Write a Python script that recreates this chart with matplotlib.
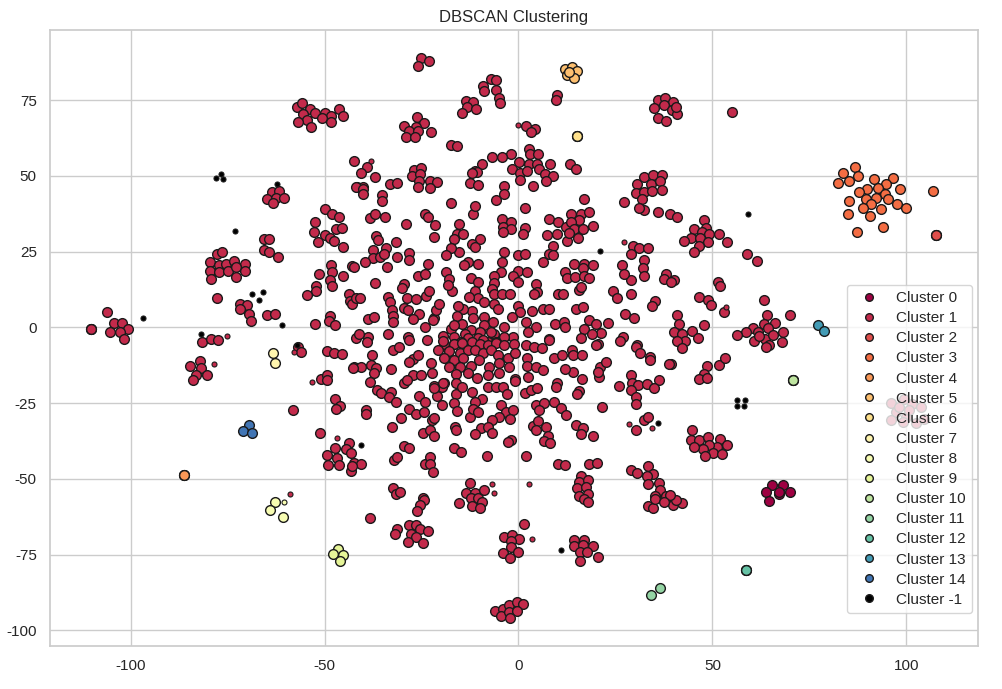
import numpy as np
import matplotlib
matplotlib.use("Agg")
import matplotlib.pyplot as plt
from matplotlib.lines import Line2D
import seaborn as sns

sns.set_theme(style="whitegrid")
plt.rcParams['font.family'] = ['Liberation Sans', 'DejaVu Sans']
plt.rcParams['axes.unicode_minus'] = False

# ---------------- data ----------------
cluster0_core = [(65.5, -51.9), (68.1, -51.9), (63.8, -54.4), (67.1, -55.0), (70.1, -54.4),
                 (64.5, -57.3), (67.1, -54.2)]

cluster1_core = [
    (-57.2, 72.7), (-55.9, 74.2), (-53.7, 72.2), (-55.6, 70.5), (-52.4, 70.7), (-49.8, 70.9), (-48.3, 69.8),
    (-50.7, 69.0), (-48.3, 67.7), (-54.6, 68.4), (-56.9, 67.8), (-53.5, 66.3), (-46.3, 72.1), (-45.3, 69.7),
    (-25.1, 89.0), (-23.1, 87.9), (-26.0, 86.3), (-7.1, 82.0), (-5.8, 81.6), (-9.1, 79.7), (-8.85, 78.0),
    (-5.85, 78.4), (-5.1, 75.8), (-4.8, 74.1), (-13.6, 74.8), (-11.8, 74.5), (-13.2, 72.7), (-11.0, 72.0),
    (-14.6, 70.8), (10.0, 76.6), (9.6, 75.0),
    (-26.2, 69.4), (-24.4, 67.5), (-29.4, 66.4), (-26.4, 66.3), (-28.1, 65.0), (-25.8, 65.0), (-22.5, 64.4),
    (-29.0, 62.9), (-26.6, 62.8), (-17.4, 60.2), (-15.9, 59.8),
    (1.9, 66.4), (4.2, 65.5), (3.2, 64.4), (2.6, 58.9), (3.0, 57.3), (5.0, 57.2), (-1.9, 57.2), (-4.3, 56.2),
    (-6.8, 56.3), (-9.5, 53.9), (0.1, 54.5), (2.7, 54.1), (4.8, 54.0), (8.2, 54.0), (13.2, 53.9), (14.8, 52.2),
    (-1.7, 52.3), (0.4, 50.9), (2.3, 51.6), (5.2, 52.2), (6.8, 50.5), (8.8, 50.0), (7.2, 48.3), (0.3, 48.6),
    (3.7, 46.8), (-3.8, 46.7), (-11.3, 51.8), (-10.6, 51.2), (-11.9, 51.0), (-12.5, 47.6), (-10.5, 47.0),
    (-42.3, 55.0), (-39.1, 52.9), (-40.7, 50.9), (-37.0, 49.7), (-41.6, 46.5), (-40.1, 46.3), (-33.1, 47.2),
    (-31.4, 47.6), (-27.0, 52.0), (-25.1, 52.7), (-27.5, 50.0), (-25.3, 50.7), (-25.7, 48.5), (-22.9, 48.4),
    (-21.0, 47.9), (-26.0, 46.3), (-22.9, 46.1),
    (35.9, 75.1), (37.8, 75.6), (39.8, 74.4), (34.9, 72.4), (37.6, 73.3), (39.6, 71.8), (41.0, 70.5),
    (36.1, 69.1), (38.0, 68.0), (40.5, 72.8),
    (30.6, 47.4), (32.5, 49.7), (34.6, 50.4), (37.0, 50.4), (34.2, 47.4), (36.5, 48.5),
    (30.3, 44.3), (32.3, 44.6), (34.4, 45.0), (36.9, 45.3), (31.8, 42.4), (32.5, 38.7), (31.0, 39.5),
    (36.1, 38.2), (39.2, 37.3),
    (55.0, 71.1),
    (59.0, 24.2), (61.4, 22.0), (41.0, 36.5), (47.9, 35.5), (45.3, 32.5), (48.4, 32.9), (47.3, 31.6),
    (49.2, 31.0), (51.6, 31.0), (44.5, 29.6), (42.8, 28.5), (46.9, 29.4), (49.0, 28.1), (53.7, 28.1),
    (46.6, 27.0), (45.2, 24.8), (40.2, 15.6), (51.4, 15.1), (52.0, 13.7), (46.5, 9.9), (48.8, 9.0),
    (49.6, 7.4), (53.1, 5.0), (41.0, 4.1), (41.3, 1.3), (40.2, -1.4), (42.1, -2.0), (44.7, -1.2),
    (47.8, 0.8), (46.2, -3.4), (43.0, -4.4), (40.8, -4.5),
    (63.2, 9.0), (64.0, 4.1), (70.1, 4.2), (66.2, 1.6), (63.2, 1.3), (60.6, -0.1), (58.7, -1.4), (56.3, -2.6),
    (61.7, -1.4), (64.4, -0.3), (68.1, -1.6), (60.8, -4.4), (63.6, -3.9), (65.7, -2.5), (67.9, -4.7),
    (64.7, -5.8), (62.1, -2.7), (63.8, -6.3),
    (42.3, -6.7), (39.3, -12.0), (48.5, -12.7), (47.9, -15.3), (46.5, -17.1), (48.5, -16.8), (51.6, -12.4),
    (53.2, -10.2),
    (44.7, -34.0), (44.5, -37.1), (46.5, -37.1), (48.8, -36.2), (52.0, -36.8), (53.7, -38.9), (51.1, -39.5),
    (49.2, -38.8), (47.5, -40.2), (45.3, -39.5), (50.1, -41.3), (48.2, -42.6), (52.4, -41.8),
    (96.0, -25.0), (99.3, -23.7), (101.6, -25.2), (103.9, -26.1), (97.3, -27.8), (99.9, -29.4), (96.0, -30.5),
    (99.1, -31.1), (102.5, -31.6), (104.5, -30.3), (98.2, -26.1), (100.8, -27.2),
    (39.9, -58.6), (42.3, -58.0), (40.6, -57.0),
    (-63.5, 44.8), (-61.8, 45.0), (-64.9, 42.4), (-62.5, 42.6), (-60.5, 42.9), (-63.3, 41.0),
    (-50.0, 39.1), (-48.0, 37.6), (-46.3, 36.3), (-52.5, 34.9), (-47.0, 32.5), (-45.6, 32.7), (-52.8, 31.4),
    (-49.9, 30.5), (-48.6, 29.6), (-47.6, 28.5), (-51.7, 28.1), (-45.3, 26.4), (-42.0, 46.4),
    (-65.7, 29.2), (-64.4, 29.2), (-65.7, 25.5), (-64.4, 24.8), (-62.0, 23.1),
    (-77.7, 24.1), (-76.5, 24.9), (-79.6, 21.5), (-77.3, 20.6), (-75.4, 20.8), (-73.4, 22.1), (-70.5, 20.9),
    (-79.5, 18.6), (-77.1, 18.2), (-74.9, 18.8), (-72.8, 19.8), (-70.5, 18.8), (-79.3, 15.9), (-72.8, 16.5),
    (-77.8, 9.6), (-71.8, 7.9), (-69.9, 7.4), (-71.8, 6.0), (-69.5, 4.6), (-69.0, 2.1), (-64.9, 4.1),
    (-62.8, 4.4),
    (-106.1, 5.2), (-110.3, -0.4), (-110.3, -0.4), (-110.3, -0.4), (-104.3, 1.5), (-102.3, 1.6),
    (-100.6, -0.5), (-102.7, -1.4), (-105.2, -1.5), (-101.7, -3.7),
    (-48.3, 20.6), (-48.0, 18.2), (-48.6, 15.6), (-48.1, 13.7), (-51.5, 17.5), (-45.3, 17.0), (-43.0, 20.3),
    (-52.2, 13.7), (-52.3, 12.0), (-54.6, 10.7), (-43.8, 11.0), (-43.4, 8.7), (-43.0, 7.6), (-41.9, 9.6),
    (-48.7, 3.8), (-48.9, 2.1), (-47.4, 0.8), (-52.5, 1.0),
    (-81.5, -4.9), (-79.2, -3.8), (-77.5, -4.2), (-41.9, -3.6),
    (-40.1, 45.7), (-40.1, 43.9), (-3.8, 44.2),
    (-35.2, 43.7), (-35.2, 41.8), (-17.5, 41.0), (-5.8, 42.0), (1.8, 39.6), (17.0, 42.4), (27.1, 41.5),
    (-38.4, 36.0), (-36.9, 37.3), (-34.3, 36.3), (-29.1, 34.3), (-24.1, 37.3), (-23.2, 36.3), (-21.6, 33.8),
    (-21.8, 29.7), (-11.8, 37.4), (-11.3, 40.2),
    (-15.4, 34.0), (-15.8, 31.0), (-14.4, 31.0), (-16.5, 29.2), (-9.8, 29.2), (-12.0, 27.7), (-11.2, 26.6),
    (-4.2, 35.7), (-1.9, 34.7), (-3.9, 33.2), (-1.9, 32.5), (-4.0, 31.6), (1.7, 32.7), (1.1, 30.8),
    (7.8, 35.7), (10.3, 34.7), (12.3, 33.2), (13.6, 37.4), (16.0, 37.6), (15.5, 35.6), (13.6, 34.9),
    (14.4, 32.4), (16.6, 32.4), (18.3, 38.0), (19.2, 33.5), (12.5, 28.5), (15.3, 29.4), (13.1, 31.3),
    (9.9, 30.7), (7.3, 30.5), (8.8, 26.9),
    (8.0, 24.2), (9.0, 23.9), (6.3, 21.5),
    (29.5, 27.0), (31.0, 26.3), (33.5, 26.3), (28.9, 24.4), (32.5, 22.2), (32.0, 19.5), (32.5, 17.1),
    (29.0, 15.6), (26.6, 20.6), (27.3, 17.5), (38.1, 17.5), (37.6, 16.0), (39.3, 15.1), (24.3, 12.0),
    (25.4, 9.6), (28.9, 11.2), (35.1, 8.8), (34.4, 7.2), (27.5, 4.3), (29.7, 3.0), (26.9, -3.1),
    (26.2, -4.4), (30.6, -5.8),
    (14.4, 21.1), (16.8, 21.1), (16.6, 19.5), (19.2, 20.6), (11.9, 18.4), (12.4, 16.4), (14.7, 16.7),
    (16.8, 17.1), (18.3, 16.2), (15.5, 12.3), (16.2, 13.3), (14.9, 6.1), (16.6, 6.7),
    (10.1, 10.9), (11.4, 11.2), (4.5, 14.5), (4.8, 11.8), (4.1, 10.9),
    (6.3, 6.1), (8.0, 6.1), (3.4, 5.4), (2.0, 1.7), (4.5, 0.2), (2.4, -1.4), (7.8, -3.8), (9.3, 1.3),
    (11.7, 1.7), (11.9, 0.0), (18.3, 2.4), (20.0, 1.3), (23.0, 1.6), (17.0, -0.6), (21.3, -1.7), (19.0, -2.2),
    (16.2, -3.6), (20.4, -5.3),
    (-0.2, 23.9), (1.8, 24.1), (-3.8, 24.8), (-4.2, 21.5), (-4.5, 18.2), (-0.2, 18.6), (2.1, 18.2),
    (-1.5, 17.1), (-0.2, 14.9), (-6.2, 17.0), (-6.4, 14.8), (-6.9, 12.7), (-6.2, 10.9), (-4.3, 11.2),
    (-2.2, 10.9), (-6.4, 7.9), (-5.3, 6.0), (-0.2, 7.1), (0.3, 5.2), (-1.7, 3.5), (-3.6, 0.2), (-6.2, -2.3),
    (-7.9, -4.7), (-4.5, -4.7), (-1.5, -3.1),
    (-10.5, 20.8), (-13.1, 21.5), (-14.1, 20.6), (-15.4, 24.8), (-17.4, 26.3), (-18.8, 23.9), (-18.6, 18.2),
    (-17.8, 15.9), (-17.2, 12.0), (-18.2, 14.0), (-12.2, 16.4), (-10.5, 14.9), (-11.2, 12.0), (-10.5, 9.8),
    (-12.8, 10.1), (-8.9, 8.5), (-12.0, 5.4), (-14.4, 6.1), (-15.6, 7.2), (-15.8, 3.9), (-17.4, -0.5),
    (-14.6, 1.0), (-11.8, 3.0), (-8.9, 3.5), (-6.6, 1.9), (-8.8, 0.8), (-12.2, -0.9), (-10.0, -1.4),
    (-13.9, -2.0), (-16.7, -3.1), (-13.1, -3.6), (-10.5, -3.6), (-14.8, -4.7), (-19.5, -2.7), (-23.5, -4.2),
    (-19.3, -5.3), (-24.2, 0.0), (-21.7, 3.2), (-21.2, 5.7), (-20.4, 7.6), (-22.1, 2.4),
    (-26.0, 17.1), (-24.0, 17.8), (-23.4, 20.8), (-29.6, 14.2), (-30.0, 12.9), (-28.8, 9.6), (-26.4, 9.3),
    (-23.8, 10.4), (-23.0, 12.0), (-29.4, 6.5), (-28.4, 5.7), (-25.7, 4.6), (-27.2, 2.8), (-33.7, 10.1),
    (-33.2, 8.3), (-32.6, 5.7), (-32.4, 3.8), (-32.4, 1.9), (-33.7, -2.0), (-38.8, 2.8), (-37.3, 3.5),
    (-40.8, 9.6), (-36.9, 14.8), (-33.9, 20.0), (-31.4, 23.3), (-28.1, 24.7), (-28.1, 22.2), (-34.1, 26.3),
    (-31.7, 28.1), (-37.5, 25.5), (-37.5, 23.0), (-35.8, 23.3), (-34.7, 24.4), (-39.7, 21.5), (-36.7, 30.3),
    (-36.1, 28.8), (-42.3, 20.0), (-38.8, -3.1), (-39.0, -4.7), (-41.0, -2.3), (-28.5, -3.1), (-28.2, -4.0),
    (-16.5, 0.8), (-7.0, -1.4), (-9.2, -4.2), (-11.8, -5.3), (-16.5, -5.3), (-3.6, -3.1), (-5.8, -4.7),
    (-19.5, -4.6), (-16.5, -5.4), (-14.6, -5.2), (-12.0, -4.7), (-9.8, -5.4), (-7.9, -5.7), (-5.8, -5.0),
    (-3.6, -5.7), (-1.2, -5.4), (-20.8, -7.4), (-17.8, -7.9), (-15.2, -8.3), (-13.1, -7.4), (-11.2, -7.6),
    (-9.2, -8.3), (-7.0, -7.6), (-5.2, -9.1), (-2.6, -10.2), (-0.9, -8.5), (-19.2, -10.2), (-16.5, -10.7),
    (-14.3, -10.2), (-12.2, -12.7), (-10.05, -10.7), (-7.5, -12.9), (-5.1, -11.6), (-2.5, -13.1),
    (-17.8, -12.9), (-15.0, -12.9), (-13.1, -15.1), (-10.7, -16.8), (-7.9, -15.7), (-5.1, -14.9),
    (-0.9, -17.1), (-16.1, -15.4), (-19.1, -18.2), (-19.8, -19.5), (-16.1, -18.4),
    (-37.8, -9.1), (-42.3, -13.1), (-40.6, -12.9), (-38.0, -12.4), (-36.7, -13.5), (-37.3, -15.1),
    (-38.2, -17.9), (-32.4, -7.6), (-30.7, -6.5),
    (-32.8, -13.8), (-27.2, -10.5), (-26.0, -9.1), (-28.1, -11.3), (-22.5, -11.6), (-22.3, -15.1),
    (-27.2, -15.7), (-25.1, -15.7), (-29.4, -18.2), (-28.7, -17.3),
    (-36.4, -20.8), (-35.4, -21.7), (-32.8, -21.2), (-33.5, -23.0), (-31.5, -24.5),
    (-21.9, -19.3), (-19.5, -18.4), (-21.0, -22.6), (-19.8, -25.6), (-25.7, -22.6), (-24.2, -24.6),
    (-21.7, -20.1),
    (-16.1, -21.9), (-14.6, -19.7), (-12.0, -21.4), (-9.5, -23.7), (-11.3, -24.5), (-16.5, -25.0),
    (-15.8, -27.5),
    (-7.9, -19.8), (-5.8, -19.5), (-4.0, -19.5), (-3.0, -22.0),
    (-4.6, -25.5), (-3.2, -27.8), (-1.5, -27.4), (-2.3, -30.3), (-4.9, -29.6), (-6.9, -30.5), (-9.6, -33.3),
    (-7.9, -32.9), (-6.9, -34.9), (-11.2, -35.2), (-12.6, -29.6), (-11.6, -27.0), (-10.5, -27.8),
    (-1.0, -17.6),
    (2.2, -10.2), (2.2, -12.7), (4.6, -12.9), (6.3, -14.0), (2.4, -16.4), (1.7, -21.7), (3.3, -20.8),
    (4.8, -20.1),
    (2.0, -5.8), (4.1, -6.5), (6.0, -6.9), (8.0, -4.1),
    (4.6, -25.6), (6.5, -24.8), (5.4, -27.2), (9.1, -24.7), (11.0, -26.7), (12.3, -28.9),
    (3.7, -32.5), (5.0, -30.8), (4.6, -33.8), (7.1, -32.9), (7.6, -36.0), (6.5, -37.4), (8.2, -38.0),
    (-1.9, -37.1), (-2.6, -37.7), (-8.1, -42.6), (2.0, -42.6), (-16.5, -39.9), (-14.8, -41.2),
    (-22.3, -30.5), (-21.7, -29.8), (-24.7, -34.7), (-22.7, -33.8), (-21.7, -35.7), (-16.3, -32.9),
    (-16.0, -33.8),
    (-30.2, -30.0), (-28.3, -27.0), (-26.4, -28.5), (-24.4, -27.8), (-32.6, -32.7),
    (-29.4, -39.1), (-28.3, -39.9), (-32.1, -43.9), (-31.3, -42.8),
    (-24.2, -45.0), (-22.9, -42.8), (-22.7, -45.0), (-22.1, -47.6),
    (-39.3, -27.4), (-39.3, -28.5),
    (-42.3, -44.8), (-40.7, -45.0),
    (-32.4, -53.1), (-31.5, -54.9), (-30.5, -54.2),
    (-12.4, -51.4), (-13.5, -54.5), (-11.2, -54.5), (-8.8, -53.6), (-12.2, -56.4), (-10.5, -56.4),
    (-24.5, -56.4),
    (10.1, -45.0), (12.1, -45.4), (18.1, -45.0), (20.2, -44.8),
    (16.0, -49.0), (15.5, -50.9), (17.9, -50.3), (15.1, -53.1), (17.4, -52.7), (15.5, -55.6), (17.9, -54.9),
    (17.0, -56.7),
    (10.0, -18.4), (9.7, -19.5), (16.4, -17.1), (14.0, -14.8), (11.9, -13.8), (15.5, -20.9), (15.1, -21.9),
    (9.1, -10.2), (11.2, -9.1), (13.7, -7.6), (14.0, -9.1), (16.3, -9.1), (21.1, -12.9), (20.7, -16.2),
    (20.6, -14.6), (20.0, -5.8), (22.6, -11.3),
    (14.9, -32.2), (16.6, -33.3), (16.0, -35.2), (19.2, -35.7),
    (21.6, -26.3),
    (26.0, -19.3), (29.0, -15.7), (29.2, -18.2), (30.7, -19.0), (33.2, -18.6), (36.3, -17.5), (35.0, -20.1),
    (28.9, -20.6), (30.3, -23.0), (30.3, -25.2), (30.3, -6.5), (31.4, -8.3), (33.9, -9.8),
    (33.8, -10.9), (38.9, -12.0),
    (30.3, -33.8), (32.5, -30.5), (33.3, -29.6),
    (29.0, -47.0), (30.6, -48.1), (33.3, -45.7), (34.6, -48.3), (33.2, -49.2), (33.3, -51.6), (36.3, -51.2),
    (36.6, -53.6), (35.2, -55.8), (38.1, -55.8), (39.2, -55.2),
    (-84.8, -12.7), (-82.2, -11.0), (-81.8, -13.5), (-83.1, -15.6), (-80.3, -15.6), (-83.8, -17.3),
    (-56.9, -6.5), (-56.0, -8.2),
    (-49.4, -7.7), (-47.6, -8.5), (-45.5, -8.8), (-42.6, -13.5),
    (-50.9, -17.1), (-49.4, -15.7), (-49.4, -17.5),
    (-47.2, -23.7), (-46.0, -25.9), (-47.0, -27.0), (-58.2, -27.2), (-51.1, -34.9),
    (-43.8, -38.2), (-44.6, -40.2), (-43.1, -41.5), (-47.4, -39.9), (-49.4, -42.1), (-46.8, -43.2),
    (-49.2, -45.4), (-46.2, -45.4), (-43.3, -47.3), (-42.9, -45.7),
    (-24.4, -57.0), (-25.3, -58.6), (-26.2, -60.6), (-31.3, -66.6), (-31.8, -68.2), (-28.1, -65.2),
    (-26.4, -65.2), (-25.3, -66.6), (-23.4, -67.2), (-27.8, -68.2), (-26.4, -69.2), (-28.5, -70.7),
    (-24.7, -71.3), (-38.4, -63.0),
    (-15.4, -57.8), (-9.4, -57.5), (-12.0, -58.8), (-9.8, -59.7),
    (1.4, -65.0), (-3.6, -69.3), (-1.7, -68.5), (0.1, -69.9), (-1.9, -70.4), (-1.9, -72.6), (-4.0, -74.6),
    (-0.2, -74.2), (-2.1, -76.0),
    (14.4, -70.2), (17.0, -70.2), (14.3, -72.1), (16.6, -71.8), (19.2, -72.1), (15.8, -74.0), (17.6, -74.2),
    (20.4, -75.9), (15.8, -77.1), (17.9, -57.5),
    (33.3, -58.9), (34.6, -59.5), (35.2, -56.6), (37.5, -57.7),
    (-6.0, -93.6), (-4.0, -92.9), (-2.5, -91.6), (-0.4, -90.5), (1.1, -91.4), (-4.5, -95.1), (-2.5, -94.0),
    (-0.4, -93.6), (-2.1, -96.0),
]
cluster1_border = [(0.0, 66.7), (-38.0, 55.0), (27.1, 28.1), (-75.2, -2.8), (-78.5, -12.0), (-58.0, -8.2),
                   (-53.3, -18.1), (-46.8, -36.6), (-59.0, -55.0), (28.6, -31.8), (34.4, -33.3),
                   (-6.9, -51.6), (-6.4, -54.7), (2.8, -51.7), (3.4, -69.9), (53.5, 6.6)]

cluster2_core = [(107.7, 30.4), (107.7, 30.4), (107.7, 30.4)]
cluster3_core = [(83.8, 50.9), (86.8, 53.0), (87.6, 49.9), (85.3, 48.4), (82.5, 47.6), (91.8, 49.0),
                 (96.5, 49.5), (94.8, 47.4), (89.8, 45.8), (92.6, 45.9), (98.4, 45.6), (107.0, 44.9),
                 (87.9, 44.6), (94.5, 44.2), (92.2, 42.8), (89.6, 42.3), (85.3, 41.7), (95.4, 42.4),
                 (90.9, 40.6), (93.5, 39.1), (88.9, 39.3), (97.7, 40.7), (99.9, 39.6), (85.0, 37.6),
                 (90.7, 36.8), (94.1, 33.1), (87.3, 31.5)]
cluster4_core = [(-86.3, -48.8), (-86.3, -48.8), (-86.3, -48.8)]
cluster5_core = [(12.0, 85.4), (13.7, 86.1), (15.1, 84.6), (12.4, 83.2), (14.3, 82.5), (13.1, 84.4)]
cluster6_core = [(15.0, 63.1), (15.0, 63.1), (15.0, 63.1)]
cluster7_core = [(-63.3, -8.5), (-62.8, -11.8)]
cluster8_core = [(-62.8, -57.5), (-64.0, -60.3), (-60.8, -62.7)]
cluster8_border = [(-60.4, -57.7)]
cluster9_core = [(-46.6, -73.1), (-47.7, -74.9), (-45.3, -75.1), (-45.9, -77.1)]
cluster10_core = [(70.9, -17.4), (70.9, -17.4), (70.9, -17.4)]
cluster11_core = [(34.3, -88.3), (36.4, -86.1)]
cluster12_core = [(58.7, -80.2), (58.7, -80.2), (58.7, -80.2)]
cluster13_core = [(77.3, 0.9), (78.9, -1.3)]
cluster14_core = [(-69.5, -32.3), (-71.1, -34.1), (-68.7, -34.9)]
noise_points = [(-77.9, 49.2), (-76.7, 50.7), (-76.2, 48.9), (-62.3, 47.3), (-73.1, 32.0), (-68.7, 10.9),
                (-65.9, 11.6), (-66.9, 8.9), (-61.0, 0.8), (-96.8, 3.0), (-81.8, -2.2), (-57.0, -5.8),
                (21.1, 25.2), (59.1, 37.3), (56.3, -24.1), (58.3, -24.1), (56.3, -25.9), (58.1, -25.9),
                (35.9, -31.6), (10.9, -73.6), (-40.7, -38.9)]

labels = [0, 1, 2, 3, 4, 5, 6, 7, 8, 9, 10, 11, 12, 13, 14, -1]
core_sets = [cluster0_core, cluster1_core, cluster2_core, cluster3_core, cluster4_core, cluster5_core,
             cluster6_core, cluster7_core, cluster8_core, cluster9_core, cluster10_core, cluster11_core,
             cluster12_core, cluster13_core, cluster14_core, []]
border_sets = [[], cluster1_border, [], [], [], [], [], [], cluster8_border, [], [], [], [], [], [],
               noise_points]

# ---------------- plot ----------------
fig = plt.figure(figsize=(10.02, 6.89), dpi=100)
ax = fig.add_axes([50 / 1002, (689 - 645.5) / 689, 928 / 1002, 615.5 / 689])

colors = [plt.cm.Spectral(v) for v in np.linspace(0, 1, len(labels))]
handles = []
for k, col, core, border in zip(labels, colors, core_sets, border_sets):
    if k == -1:
        col = (0, 0, 0, 1)
    if core:
        cx, cy = zip(*core)
        ax.plot(cx, cy, 'o', markerfacecolor=col, markeredgecolor='k', markeredgewidth=1.0,
                markersize=7)
    if border:
        bx, by = zip(*border)
        ax.plot(bx, by, 'o', markerfacecolor=col, markeredgecolor='k', markeredgewidth=0.8,
                markersize=3.6)
    handles.append(Line2D([], [], linestyle='none', marker='o', markerfacecolor=col,
                          markeredgecolor='k', markeredgewidth=1.0, markersize=5.5,
                          label=f'Cluster {k}'))

ax.set_xlim(-120.8, 118.5)
ax.set_ylim(-105.0, 98.2)
ax.set_xticks([-100, -50, 0, 50, 100])
ax.set_yticks([-100, -75, -50, -25, 0, 25, 50, 75])
ax.tick_params(labelsize=11)
ax.set_title('DBSCAN Clustering', fontsize=12)
ax.legend(handles=handles, loc='lower right', bbox_to_anchor=(0.9935, 0.053),
          borderaxespad=0, fontsize=11, framealpha=0.8, labelspacing=0.4)

fig.savefig('out.png', dpi=100)
